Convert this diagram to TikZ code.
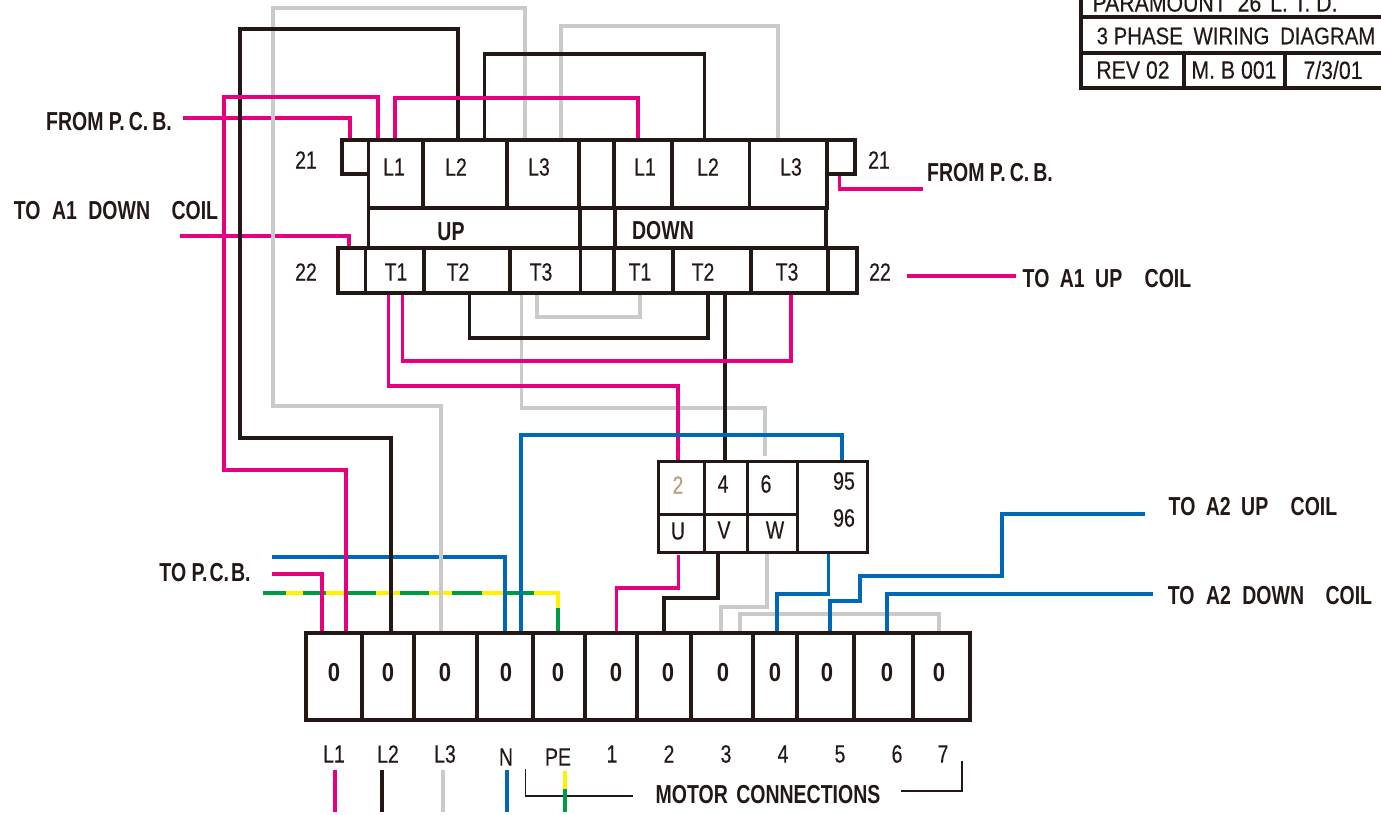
\documentclass[tikz,border=0pt]{standalone}
\usepackage{fontspec}
\setmainfont{Liberation Sans}
\newfontfamily\thinface[FakeStretch=0.78,FakeBold=0.25]{Liberation Sans}
\newfontfamily\tableface[FakeStretch=0.85,FakeBold=0.25]{Liberation Sans}
\newfontfamily\headface[FakeStretch=0.75]{Liberation Sans Bold}
\newfontfamily\zeroface[FakeStretch=0.85]{Liberation Sans Bold}
\definecolor{ink}{HTML}{231815}
\definecolor{wirepink}{HTML}{E6007E}
\definecolor{wireblue}{HTML}{0068B7}
\definecolor{wiregrey}{HTML}{C9CACA}
\definecolor{wireyellow}{HTML}{FFF100}
\definecolor{wiregreen}{HTML}{009944}
\definecolor{tan}{HTML}{B8A07E}
\tikzset{
  thin label/.style={inner sep=0pt,text=ink,font=\thinface\fontsize{25}{25}\selectfont},
  table label/.style={inner sep=0pt,text=ink,font=\tableface\fontsize{25}{25}\selectfont},
  head label/.style={inner sep=0pt,text=ink,font=\headface\fontsize{26}{26}\selectfont},
  zero label/.style={inner sep=0pt,text=ink,font=\zeroface\fontsize{26}{26}\selectfont},
  box/.style={draw=ink,line width=3.6pt,inner sep=0pt},
  cell line/.style={draw=ink,line width=3.6pt},
  pinkwire/.style={draw=wirepink,line width=3.3pt},
  bluewire/.style={draw=wireblue,line width=3.3pt},
  greywire/.style={draw=wiregrey,line width=3.3pt},
  blackwire/.style={draw=ink,line width=3.5pt},
  yellowwire/.style={draw=wireyellow,line width=3.8pt},
  greenwire/.style={draw=wiregreen,line width=3.8pt}
}
\begin{document}
\begin{tikzpicture}[x=1pt,y=-1pt]
\clip (0,0) rectangle (1381,814);

\node[box,minimum width=458.5pt,minimum height=68pt] (lrow) at (597.75,174) {};
\node[box,minimum width=26.5pt,minimum height=34pt] (aux21l) at (355.25,157) {};
\node[box,minimum width=28pt,minimum height=34pt] (aux21r) at (841,157) {};
\node[box,minimum width=457.5pt,minimum height=40pt] (midrow) at (597.25,228) {};
\node[box,minimum width=519pt,minimum height=45pt] (trow) at (597.5,270.5) {};
\node[box,line width=3pt,minimum width=209pt,minimum height=91pt] (overload) at (762.5,506.5) {};
\node[box,line width=4pt,minimum width=664pt,minimum height=87pt] (strip) at (638,676.5) {};

\coordinate (pcbleft) at (183,118);
\coordinate (coilleft) at (180,236);
\coordinate (pcbright) at (923,189);
\coordinate (coilright) at (907,276);
\coordinate (coilrightend) at (1016,276);
\coordinate (pcbblue) at (272,557);
\coordinate (pcbpink) at (272,574);
\coordinate (earth) at (263,593);
\coordinate (a2up) at (1145,514);
\coordinate (a2down) at (1153,594);

\draw[yellowwire] (earth) -| (558,608);
\foreach \a/\b in {263/286,303/326,348/376,400/429,452/482,505/534}
  \draw[greenwire] (\a,593) -- (\b,593);
\draw[greenwire] (558,608) -- (558,0 |- strip.north);

\draw[pinkwire] (pcbleft) -| (350,0 |- aux21l.north);
\draw[pinkwire] (coilleft) -| (349,0 |- trow.north);
\draw[pinkwire] (pcbright) -| (839.5,0 |- aux21r.south);
\draw[pinkwire] (coilright) -- (coilrightend);
\draw[pinkwire] (pcbpink) -| (322,0 |- strip.north);
\draw[bluewire] (pcbblue) -| (505,0 |- strip.north);

\draw[greywire] (525,0 |- lrow.north) -- (525,8) -- (273,8) -- (273,406) -- (441,406) -- (441,0 |- strip.north);
\draw[greywire] (561,0 |- lrow.north) -- (561,26) -- (778,26) -- (778,0 |- lrow.north);
\draw[blackwire] (458,0 |- lrow.north) -- (458,29) -- (240,29) -- (240,438) -- (391,438) -- (391,0 |- strip.north);
\draw[blackwire] (484.5,0 |- lrow.north) -- (484.5,54) -- (704.5,54) -- (704.5,0 |- lrow.north);
\draw[pinkwire] (378,0 |- lrow.north) -- (378,97) -- (224,97) -- (224,470) -- (346,470) -- (346,0 |- strip.north);
\draw[pinkwire] (395,0 |- lrow.north) -- (395,98) -- (638,98) -- (638,0 |- lrow.north);

\draw[greywire] (521.5,0 |- trow.south) -- (521.5,408) -- (765,408) -- (765,456);
\draw[greywire] (537,0 |- trow.south) -- (537,317) -- (640,317) -- (640,0 |- trow.south);
\draw[blackwire] (469.5,0 |- trow.south) -- (469.5,338) -- (708,338) -- (708,0 |- trow.south);
\draw[blackwire] (725,0 |- trow.south) -- (725,0 |- overload.north);
\draw[pinkwire] (388.5,0 |- trow.south) -- (388.5,386) -- (678,386) -- (678,0 |- overload.north);
\draw[pinkwire] (402.5,0 |- trow.south) -- (402.5,361) -- (791,361) -- (791,0 |- trow.south);
\draw[bluewire] (521,0 |- strip.north) -- (521,435) -- (842,435) -- (842,0 |- overload.north);

\draw[pinkwire] (678.5,555) -- (678.5,588) -- (616.5,588) -- (616.5,0 |- strip.north);
\draw[blackwire] (718,0 |- overload.south) -- (718,598) -- (664,598) -- (664,0 |- strip.north);
\draw[greywire] (767,0 |- overload.south) -- (767,607) -- (721,607) -- (721,0 |- strip.north);
\draw[greywire] (740,0 |- strip.north) -- (740,614) -- (939,614) -- (939,0 |- strip.north);
\draw[bluewire] (828.5,0 |- overload.south) -- (828.5,594) -- (777,594) -- (777,0 |- strip.north);
\draw[bluewire] (a2up) -- (1002,514) -- (1002,576) -- (860,576) -- (860,601) -- (830,601) -- (830,0 |- strip.north);
\draw[bluewire] (a2down) -| (887,0 |- strip.north);

\foreach \x in {423,507,579,614,672,749.5}
  \draw[cell line] (\x,140) -- (\x,208);
\foreach \x in {580,615}
  \draw[cell line] (\x,208) -- (\x,248);
\foreach \x in {365.5,424,510,580.5,614,673,751,828}
  \draw[cell line] (\x,248) -- (\x,293);
\foreach \x in {362,414,477,533,585,637,691,753,797,854,913}
  \draw[cell line] (\x,633) -- (\x,720);
\draw[cell line,line width=3pt] (704,461) -- (704,552);
\draw[cell line,line width=3pt] (747,461) -- (747,552);
\draw[cell line,line width=3pt] (797,461) -- (797,552);
\draw[cell line,line width=3pt] (658,514) -- (797,514);

\draw[cell line] (1081,-5) -- (1081,88) -- (1381,88);
\draw[cell line] (1081,17) -- (1381,17);
\draw[cell line] (1081,53) -- (1381,53);
\draw[cell line] (1184,53) -- (1184,88);
\draw[cell line] (1285,53) -- (1285,88);

\node[table label] (company) at (1215,3) {PARAMOUNT\hspace{5pt} 26\hspace{3pt} L. T. D.};
\node[table label,font=\tableface\fontsize{24}{24}\selectfont] (title) at (1236,36) {3 PHASE\hspace{5pt} WIRING\hspace{5pt} DIAGRAM};
\node[table label] (rev) at (1133,70) {REV 02};
\node[table label] (drawing) at (1234,70) {M. B 001};
\node[table label] (date) at (1333,70) {7/3/01};

\node[head label] (fromleft) at (109,122) {FROM P.\hspace{4pt}C.\hspace{4pt}B.};
\node[head label] (fromright) at (990,173) {FROM P.\hspace{4pt}C.\hspace{4pt}B.};
\node[head label] (downcoil) at (116,211) {TO\hspace{6pt} A1\hspace{6pt} DOWN\hspace{16pt} COIL};
\node[head label] (upcoil) at (1107,279) {TO\hspace{5pt} A1\hspace{5pt} UP\hspace{17pt} COIL};
\node[head label] (a2uplabel) at (1253,507) {TO\hspace{5pt} A2\hspace{5pt} UP\hspace{17pt} COIL};
\node[head label] (a2downlabel) at (1270,596) {TO\hspace{6pt} A2\hspace{6pt} DOWN\hspace{16pt} COIL};
\node[head label] (topcb) at (205,573) {TO P.\hspace{2pt}C.\hspace{2pt}B.};
\node[head label] (uplabel) at (451,232) {UP};
\node[head label] (downlabel) at (663,231) {DOWN};
\node[head label] (motor) at (768,795) {MOTOR\hspace{3pt} CONNECTIONS};

\node[thin label] (n21l) at (306,160) {21};
\node[thin label] (n22l) at (306,272) {22};
\node[thin label] (n21r) at (879,160) {21};
\node[thin label] (n22r) at (880,272) {22};

\node[thin label] (l1a) at (394,167) {L1};
\node[thin label] (l2a) at (456,167) {L2};
\node[thin label] (l3a) at (539,167) {L3};
\node[thin label] (l1b) at (645,167) {L1};
\node[thin label] (l2b) at (708,167) {L2};
\node[thin label] (l3b) at (791,167) {L3};
\node[thin label] (t1a) at (396,272) {T1};
\node[thin label] (t2a) at (458,272) {T2};
\node[thin label] (t3a) at (541,272) {T3};
\node[thin label] (t1b) at (640,272) {T1};
\node[thin label] (t2b) at (703,272) {T2};
\node[thin label] (t3b) at (787,272) {T3};

\node[thin label,text=tan] (o2) at (678,485) {2};
\node[thin label] (o4) at (723,484) {4};
\node[thin label] (o6) at (766,484) {6};
\node[thin label] (o95) at (844,481) {95};
\node[thin label] (o96) at (844,518) {96};
\node[thin label] (ou) at (678,531) {U};
\node[thin label] (ov) at (724,530) {V};
\node[thin label] (ow) at (775,530) {W};

\node[zero label] (z1) at (334,673) {0};
\node[zero label] (z2) at (388,673) {0};
\node[zero label] (z3) at (445,673) {0};
\node[zero label] (z4) at (506,673) {0};
\node[zero label] (z5) at (558,673) {0};
\node[zero label] (z6) at (616,673) {0};
\node[zero label] (z7) at (668,673) {0};
\node[zero label] (z8) at (723,673) {0};
\node[zero label] (z9) at (775,673) {0};
\node[zero label] (z10) at (827,673) {0};
\node[zero label] (z11) at (887,673) {0};
\node[zero label] (z12) at (939,673) {0};

\node[thin label] (keyl1) at (334,754) {L1};
\node[thin label] (keyl2) at (388,754) {L2};
\node[thin label] (keyl3) at (445,754) {L3};
\node[thin label] (keyn) at (506,757) {N};
\node[thin label] (keype) at (558,757) {PE};
\node[thin label] (key1) at (612,754) {1};
\node[thin label] (key2) at (669,754) {2};
\node[thin label] (key3) at (726,754) {3};
\node[thin label] (key4) at (783,754) {4};
\node[thin label] (key5) at (840,754) {5};
\node[thin label] (key6) at (897,754) {6};
\node[thin label] (key7) at (943,754) {7};

\draw[pinkwire] (335,770) -- (335,812);
\draw[blackwire] (382,770) -- (382,812);
\draw[greywire] (443,770) -- (443,812);
\draw[bluewire] (507,770) -- (507,812);
\draw[draw=ink,line width=1.6pt] (525.5,769) -- (525.5,796) -- (633,796);
\draw[draw=ink,line width=1.6pt] (901,791) -- (962,791) -- (962,761);
\draw[yellowwire] (565,771) -- (565,789);
\draw[greenwire] (565,789) -- (565,812);
\end{tikzpicture}
\end{document}
